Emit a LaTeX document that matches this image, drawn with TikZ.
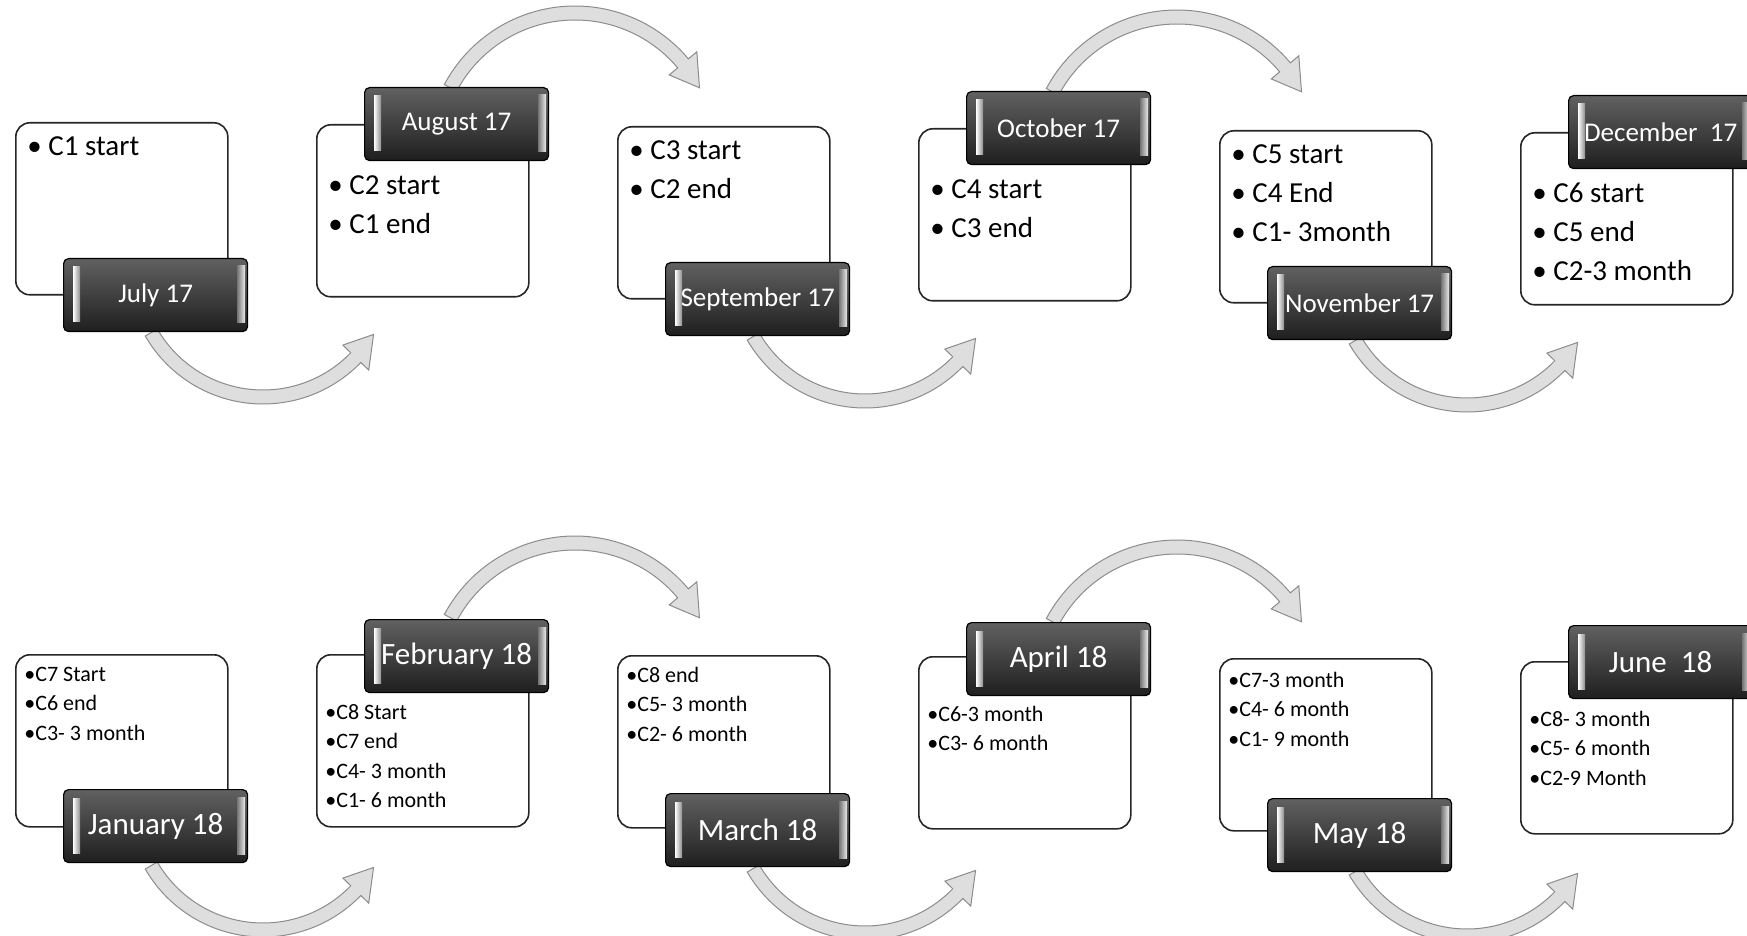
\documentclass[tikz,border=0pt]{standalone}
\usepackage{fontspec}
\setmainfont{Carlito}
\usetikzlibrary{calc}
\tikzset{
 wbox/.style={draw=black!85, line width=0.8pt, rounded corners=7pt, fill=white, minimum width=106pt, minimum height=86pt, anchor=north west, inner sep=0pt},
 dbox/.style={draw=black, line width=0.6pt, top color=black!62, bottom color=black!88, rounded corners=2.5pt, minimum width=92pt, minimum height=36.5pt, anchor=north west, inner sep=0pt, text=white},
 lbla/.style={font=\fontsize{13.5}{16}\selectfont},
 lblb/.style={font=\fontsize{15.5}{18}\selectfont},
 txta/.style={anchor=base west, inner sep=0pt, font=\fontsize{14.5}{17}\selectfont},
 txtb/.style={anchor=base west, inner sep=0pt, font=\fontsize{11}{13}\selectfont},
 arr/.style={fill=black!13, draw=black!45, line width=0.5pt},
 hlL/.style={left color=white, right color=black!45},
 hlR/.style={left color=black!55, right color=black!8},
}
\newcommand\bu{\makebox[10.5pt][l]{•}}
\newcommand\tlbox[6]{%
  \node[wbox] (#1) at (#2,#3) {};
  \node[dbox,#6] (#1d) at (#2+48,#4) {#5};
  \shade[hlL] ([shift={(10,9)}]#1d.north west) rectangle ([shift={(17,64)}]#1d.north west);
  \shade[hlR] ([shift={(174,8)}]#1d.north west) rectangle ([shift={(182,65)}]#1d.north west);
}
\newcommand\tlines[6]{%
  \foreach \t [count=\n] in {#6} {\node[#5] (#1t\n) at (#2, {#3+#4*(\n-1)}) {\t};}
}
\newcommand\botarrow[2]{%
  \filldraw[arr,shift={(#1,#2)}] (150:136) arc[start angle=150,end angle=44,radius=136]
    -- (44:147) -- (31:129) -- (44:111) -- (44:122)
    arc[start angle=44,end angle=150,radius=122] -- cycle;
}
\newcommand\toparrow[2]{%
  \filldraw[arr,shift={(#1,#2)}] (208:148) arc[start angle=208,end angle=320,radius=148]
    -- (320:159) -- (332:141) -- (320:123) -- (320:134)
    arc[start angle=320,end angle=208,radius=134] -- cycle;
}
\begin{document}
\begin{tikzpicture}[x=0.5pt,y=-0.5pt]
\useasboundingbox (0,0) rectangle (1747,936);
\clip (0,0) rectangle (1747,936);
% arrows
\botarrow{263}{268}
\botarrow{865}{272}
\botarrow{1467}{276}
\toparrow{575}{154}
\toparrow{1177}{158}
\botarrow{263}{801}
\botarrow{865}{804}
\botarrow{1467}{807}
\toparrow{575}{684}
\toparrow{1177}{688}
% row 1
\tlbox{jul}{15}{122}{258}{July 17}{lbla}
\tlbox{aug}{316}{124}{87}{August 17}{lbla}
\tlbox{sep}{617}{126}{262}{September 17}{lbla}
\tlbox{oct}{918}{128}{91}{October 17}{lbla}
\tlbox{nov}{1219}{130}{266}{November 17}{lbla}
\tlbox{dec}{1520}{132}{95}{December~~17}{lbla}
\tlines{jul}{27}{156}{39}{txta}{\bu C1 start}
\tlines{aug}{328}{195}{39}{txta}{\bu C2 start,\bu C1 end}
\tlines{sep}{629}{160}{39}{txta}{\bu C3 start,\bu C2 end}
\tlines{oct}{930}{199}{39}{txta}{\bu C4 start,\bu C3 end}
\tlines{nov}{1231}{164}{39}{txta}{\bu C5 start,\bu C4 End,\bu C1- 3month}
\tlines{dec}{1532}{203}{39}{txta}{\bu C6 start,\bu C5 end,\bu C2-3 month}
% row 2
\tlbox{jan}{15}{654}{789}{January 18}{lblb}
\tlbox{feb}{316}{654}{619}{February 18}{lblb}
\tlbox{mar}{617}{655}{793}{March 18}{lblb}
\tlbox{apr}{918}{656}{622}{April 18}{lblb}
\tlbox{may}{1219}{658}{798}{May 18}{lblb}
\tlbox{jun}{1520}{661}{625}{June~~18}{lblb}
\tlines{jan}{24}{681}{29.5}{txtb}{•C7 Start,•C6 end,•C3- 3 month}
\tlines{feb}{325}{719}{29.5}{txtb}{•C8 Start,•C7 end,•C4- 3 month,•C1- 6 month}
\tlines{mar}{626}{682}{29.5}{txtb}{•C8 end,•C5- 3 month,•C2- 6 month}
\tlines{apr}{927}{721}{29.5}{txtb}{•C6-3 month,•C3- 6 month}
\tlines{may}{1228}{687}{29.5}{txtb}{•C7-3 month,•C4- 6 month,•C1- 9 month}
\tlines{jun}{1529}{726}{29.5}{txtb}{•C8- 3 month,•C5- 6 month,•C2-9 Month}
\end{tikzpicture}
\end{document}
